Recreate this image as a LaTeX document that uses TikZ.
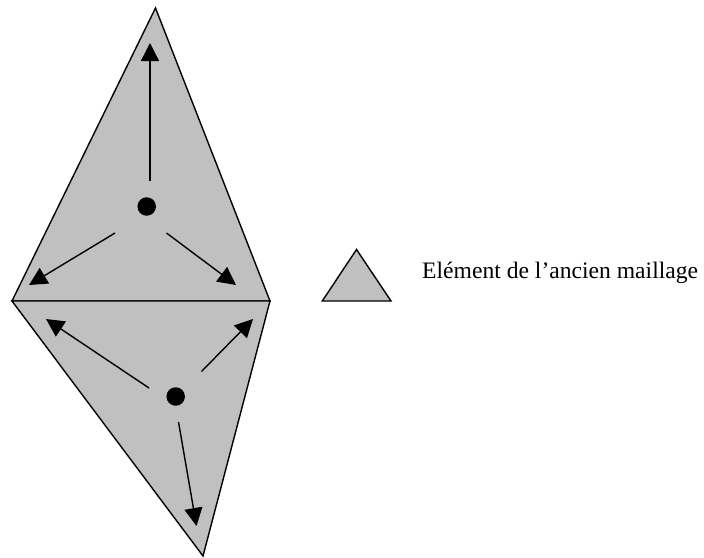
\documentclass[tikz,border=0pt]{standalone}
\usepackage{fontspec}
\setmainfont{Liberation Serif}
\usetikzlibrary{arrows.meta}
\definecolor{elemgray}{RGB}{192,192,192}
\tikzset{
  elem/.style={fill=elemgray,draw=black,line width=1.4pt,line join=miter},
  vec/.style={draw=black,line width=1.4pt,-{Triangle[length=18pt,width=18pt]}},
  centre/.style={circle,fill=black,inner sep=0pt,minimum size=18.5pt}
}
\begin{document}
\begin{tikzpicture}[x=1pt,y=-1pt]
\useasboundingbox (0,0) rectangle (704,557);
% vertices
\coordinate (T) at (155.5,8);
\coordinate (L) at (12,301);
\coordinate (R) at (270,301);
\coordinate (B) at (203,556);
% elements
\path[elem] (L) -- (T) -- (R) -- cycle;
\path[elem] (L) -- (R) -- (B) -- cycle;
% centres
\node[centre] (c1) at (146.7,206.5) {};
\node[centre] (c2) at (175.7,396.5) {};
% upper arrows
\coordinate (u1s) at (150,181);
\coordinate (u1e) at (150,43);
\coordinate (u2s) at (115,233);
\coordinate (u2e) at (29,285);
\coordinate (u3s) at (166.5,233);
\coordinate (u3e) at (236,285);
\draw[vec] (u1s) -- (u1e);
\draw[vec] (u2s) -- (u2e);
\draw[vec] (u3s) -- (u3e);
% lower arrows
\coordinate (d1s) at (149,388);
\coordinate (d1e) at (46,319);
\coordinate (d2s) at (201.5,371.5);
\coordinate (d2e) at (253,319);
\coordinate (d3s) at (178.5,422);
\coordinate (d3e) at (196.5,526);
\draw[vec] (d1s) -- (d1e);
\draw[vec] (d2s) -- (d2e);
\draw[vec] (d3s) -- (d3e);
% legend
\coordinate (lA) at (356.5,249.5);
\coordinate (lL) at (322.3,301);
\coordinate (lR) at (391,301);
\path[elem] (lL) -- (lA) -- (lR) -- cycle;
\node[anchor=base west,inner sep=0pt,font=\fontsize{23.6}{28}\selectfont] (leg) at (422,278) {Elément de l’ancien maillage};
\end{tikzpicture}
\end{document}
